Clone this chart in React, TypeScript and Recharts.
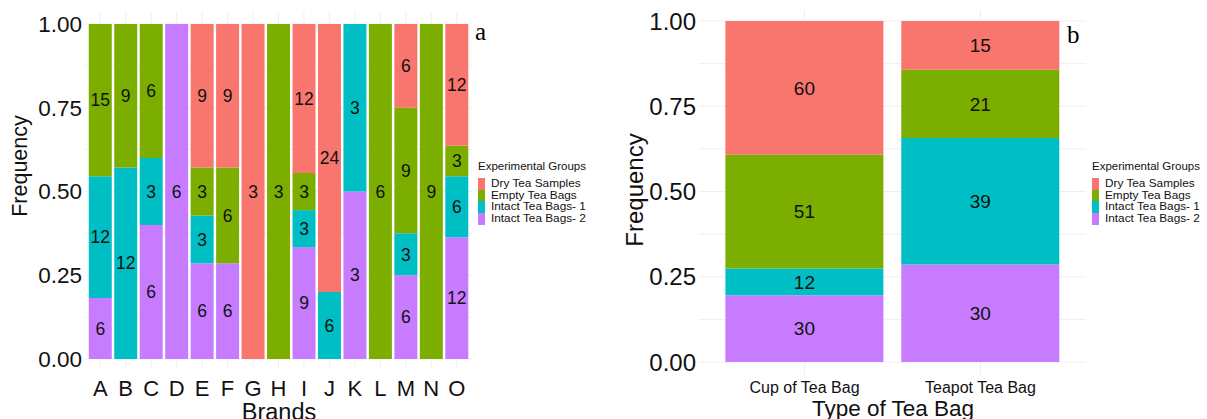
import { BarChart, Bar, XAxis, YAxis, CartesianGrid, Legend, LabelList } from 'recharts'

const groups = ['Dry Tea Samples', 'Empty Tea Bags', 'Intact Tea Bags- 1', 'Intact Tea Bags- 2']
const groupKeys = ['dry', 'empty', 'intact1', 'intact2']
const groupColors = ['#F8766D', '#7CAE00', '#00BFC4', '#C77CFF']

// panel a: counts per brand
const brands = ['A', 'B', 'C', 'D', 'E', 'F', 'G', 'H', 'I', 'J', 'K', 'L', 'M', 'N', 'O']
const dryA = [0, 0, 0, 0, 9, 9, 3, 0, 12, 24, 0, 0, 6, 0, 12]
const emptyA = [15, 9, 6, 0, 3, 6, 0, 3, 3, 0, 0, 6, 9, 9, 3]
const intact1A = [12, 12, 3, 0, 3, 0, 0, 0, 3, 6, 3, 0, 3, 0, 6]
const intact2A = [6, 0, 6, 6, 6, 6, 0, 0, 9, 0, 3, 0, 6, 0, 12]

// panel b: counts per type of tea bag
const bagTypes = ['Cup of Tea Bag', 'Teapot Tea Bag']
const dryB = [60, 15]
const emptyB = [51, 21]
const intact1B = [12, 39]
const intact2B = [30, 30]

const yTicks = [0, 0.25, 0.5, 0.75, 1]
const gridValues = [0, 0.125, 0.25, 0.375, 0.5, 0.625, 0.75, 0.875, 1]

const FONT = '"Liberation Sans", Arial, sans-serif'

function buildRows(names: string[], series: number[][]) {
  return names.map((name, i) => {
    const total = series.reduce((s, arr) => s + arr[i], 0)
    const row: Record<string, string | number> = { name }
    groupKeys.forEach((k, g) => {
      row[k] = series[g][i] / total
      row[k + 'N'] = series[g][i]
    })
    return row
  })
}

const rowsA = buildRows(brands, [dryA, emptyA, intact1A, intact2A])
const rowsB = buildRows(bagTypes, [dryB, emptyB, intact1B, intact2B])

function GroupLegend() {
  return (
    <div style={{ fontFamily: FONT, color: '#111' }}>
      <div style={{ fontSize: 11.5, lineHeight: '14px', marginBottom: 5 }}>Experimental Groups</div>
      {groups.map((g, i) => (
        <div key={g} style={{ display: 'flex', alignItems: 'center', height: 11.7 }}>
          <span style={{ width: 6.5, height: 11.7, background: groupColors[i], marginRight: 6.5 }} />
          <span style={{ fontSize: 11.8, lineHeight: '11.7px', whiteSpace: 'nowrap' }}>{g}</span>
        </div>
      ))}
    </div>
  )
}

interface PanelProps {
  rows: Record<string, string | number>[]
  width: number
  margin: { top: number; right: number; bottom: number; left: number }
  yWidth: number
  xHeight: number
  domain: [number, number]
  xPad: number
  xTickSize: number
  xTickMargin: number
  yTickSize: number
  valueSize: number
  xTitle: string
  xTitleAt: [number, number, number]
  yTitleAt: [number, number, number]
  letter: string
  letterAt: [number, number]
  legendLeft: number
}

function Panel(p: PanelProps) {
  const order = [3, 2, 1, 0] // bottom to top: intact2, intact1, empty, dry
  const n = p.rows.length
  return (
    <BarChart width={p.width} height={419} data={p.rows} margin={p.margin} barCategoryGap="5%">
      <CartesianGrid
        stroke="#efefef"
        horizontalValues={gridValues}
        verticalCoordinatesGenerator={({ offset }: any) => {
          if (!offset) return []
          const band = (offset.width - 2 * p.xPad) / n
          return p.rows.map((_, i) => offset.left + p.xPad + (i + 0.5) * band)
        }}
      />
      <XAxis
        dataKey="name"
        height={p.xHeight}
        padding={{ left: p.xPad, right: p.xPad }}
        axisLine={false}
        tickLine={false}
        tickSize={0}
        tickMargin={p.xTickMargin}
        tick={{ fontSize: p.xTickSize, fill: '#111', fontFamily: FONT }}
        label={() => (
          <text x={p.xTitleAt[0]} y={p.xTitleAt[1]} textAnchor="middle" fontSize={p.xTitleAt[2]} fontFamily={FONT} fill="#111">
            {p.xTitle}
          </text>
        )}
      />
      <YAxis
        type="number"
        width={p.yWidth}
        domain={p.domain}
        ticks={yTicks}
        tickFormatter={(v: number) => v.toFixed(2)}
        axisLine={false}
        tickLine={false}
        tickSize={0}
        tickMargin={3}
        tick={{ fontSize: p.yTickSize, fill: '#111', fontFamily: FONT }}
        label={() => (
          <text
            x={p.yTitleAt[0]}
            y={p.yTitleAt[1]}
            transform={`rotate(-90 ${p.yTitleAt[0]} ${p.yTitleAt[1]})`}
            textAnchor="middle"
            dominantBaseline="central"
            fontSize={p.yTitleAt[2]}
            fontFamily={FONT}
            fill="#111"
          >
            Frequency
          </text>
        )}
      />
      <Legend
        layout="vertical"
        align="center"
        verticalAlign="middle"
        wrapperStyle={{ left: p.legendLeft, top: 159, width: 'auto' }}
        content={() => <GroupLegend />}
      />
      {order.map((g) => (
        <Bar key={groupKeys[g]} dataKey={groupKeys[g]} stackId="s" fill={groupColors[g]} isAnimationActive={false}>
          <LabelList
            dataKey={groupKeys[g] + 'N'}
            position="center"
            formatter={(v: any) => (v ? String(v) : '')}
            style={{ fontSize: p.valueSize, fill: '#111', fontFamily: FONT }}
          />
        </Bar>
      ))}
      <text x={p.letterAt[0]} y={p.letterAt[1]} fontSize={25} fontFamily='"Liberation Serif", "Times New Roman", serif' fill="#000">
        {p.letter}
      </text>
    </BarChart>
  )
}

export default function App() {
  return (
    <div style={{ position: 'absolute', left: 0, top: 0, width: 1207, height: 419, background: '#fff', overflow: 'hidden' }}>
      <div style={{ position: 'absolute', left: 0, top: 0 }}>
        <Panel
          rows={rowsA}
          width={600}
          margin={{ top: 12, right: 128, bottom: 0, left: 0 }}
          yWidth={85}
          xHeight={52}
          domain={[-0.0239, 1.0358]}
          xPad={2.5}
          xTickSize={22}
          xTickMargin={13}
          yTickSize={22.5}
          valueSize={17.5}
          xTitle="Brands"
          xTitleAt={[279, 420, 23.5]}
          yTitleAt={[20, 166, 21.5]}
          letter="a"
          letterAt={[475, 40]}
          legendLeft={478}
        />
      </div>
      <div style={{ position: 'absolute', left: 600, top: 0 }}>
        <Panel
          rows={rowsB}
          width={607}
          margin={{ top: 10, right: 121, bottom: 0, left: 0 }}
          yWidth={99}
          xHeight={43}
          domain={[-0.041, 1.0323]}
          xPad={17.6}
          xTickSize={16}
          xTickMargin={6}
          yTickSize={24}
          valueSize={19}
          xTitle="Type of Tea Bag"
          xTitleAt={[293, 416, 22.5]}
          yTitleAt={[34, 190, 24]}
          letter="b"
          letterAt={[467, 43]}
          legendLeft={492}
        />
      </div>
    </div>
  )
}
